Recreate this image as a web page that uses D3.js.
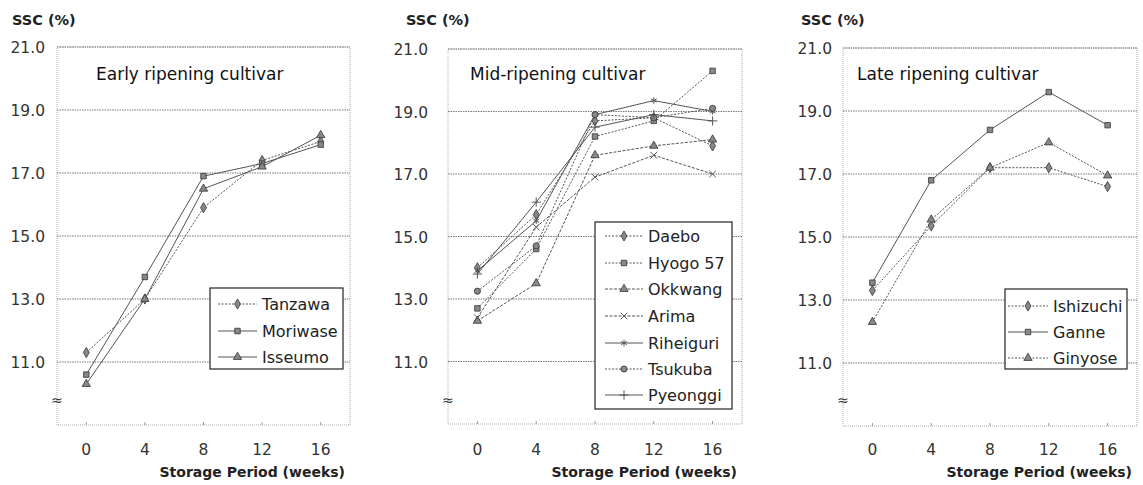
<!DOCTYPE html>
<html><head><meta charset="utf-8">
<script src="https://cdn.jsdelivr.net/npm/d3@7"></script>
<style>
body{margin:0;background:#fff;}
svg{display:block;}
text{font-family:"DejaVu Sans","Liberation Sans",sans-serif;}
</style></head>
<body>
<svg id="c" width="1143" height="485"></svg>
<script>
const weeks = [0, 4, 8, 12, 16];
const yTicks = [11, 13, 15, 17, 19, 21];
const yTickLabels = ["11.0", "13.0", "15.0", "17.0", "19.0", "21.0"];

const earlyTitle = "Early ripening cultivar";
const earlyNames = ["Tanzawa", "Moriwase", "Isseumo"];
const tanzawa  = [11.3, 13.0, 15.9, 17.4, 18.0];
const moriwase = [10.6, 13.7, 16.9, 17.3, 17.9];
const isseumo  = [10.3, 13.0, 16.5, 17.2, 18.2];

const midTitle = "Mid-ripening cultivar";
const midNames = ["Daebo", "Hyogo 57", "Okkwang", "Arima", "Riheiguri", "Tsukuba", "Pyeonggi"];
const daebo     = [14.0, 15.7, 18.7, 18.8, 17.9];
const hyogo57   = [12.7, 14.6, 18.2, 18.7, 20.3];
const okkwang   = [12.3, 13.5, 17.6, 17.9, 18.1];
const arima     = [12.4, 15.3, 16.9, 17.6, 17.0];
const riheiguri = [13.9, 15.5, 18.9, 19.35, 19.0];
const tsukuba   = [13.25, 14.7, 18.9, 18.8, 19.1];
const pyeonggi  = [13.8, 16.1, 18.5, 18.9, 18.7];

const lateTitle = "Late ripening cultivar";
const lateNames = ["Ishizuchi", "Ganne", "Ginyose"];
const ishizuchi = [13.3, 15.35, 17.2, 17.2, 16.6];
const ganne     = [13.55, 16.8, 18.4, 19.6, 18.55];
const ginyose   = [12.3, 15.55, 17.2, 18.0, 16.95];

const S = {
  diamond: d3.symbolDiamond, square: d3.symbolSquare, triangle: d3.symbolTriangle,
  times: d3.symbolTimes, asterisk: d3.symbolAsterisk, circle: d3.symbolCircle, plus: d3.symbolPlus
};
const strokeSyms = new Set(["times", "asterisk", "plus"]);

const panels = [
  { title: earlyTitle, names: earlyNames, values: [tanzawa, moriwase, isseumo],
    syms: ["diamond", "square", "triangle"], dash: ["2,1.5", null, null],
    left: 57, right: 350, top: 47, bottom: 425, ylabX: 45, sscX: 12, titleX: 96,
    leg: { x0: 210, y0: 288, w: 133, rowY: [304, 331, 357], lx0: 218, lx1: 257, tx: 262 } },
  { title: midTitle, names: midNames, values: [daebo, hyogo57, okkwang, arima, riheiguri, tsukuba, pyeonggi],
    syms: ["diamond", "square", "triangle", "times", "asterisk", "circle", "plus"],
    dash: ["2,1.5", "2,1.5", "3,1.5", "3,1.5", null, "2,1.5", null],
    left: 448, right: 742, top: 49, bottom: 424, ylabX: 428, sscX: 406, titleX: 470,
    leg: { x0: 595, y0: 222, w: 137, rowY: [236, 263, 289, 316, 343, 369, 395], lx0: 605, lx1: 643, tx: 648 } },
  { title: lateTitle, names: lateNames, values: [ishizuchi, ganne, ginyose],
    syms: ["diamond", "square", "triangle"], dash: ["2,1.5", null, "2,1.5"],
    left: 843, right: 1137, top: 48, bottom: 426, ylabX: 832, sscX: 801, titleX: 857,
    leg: { x0: 1005, y0: 289, w: 122, rowY: [306, 332, 358], lx0: 1008, lx1: 1048, tx: 1053 } }
];

const svg = d3.select("#c");

function drawSym(g, name, x, y, size) {
  const p = g.append("path")
    .attr("d", d3.symbol().type(S[name]).size(size)())
    .attr("transform", `translate(${x},${y})`);
  if (strokeSyms.has(name)) p.attr("fill", "none").attr("stroke", "#555").attr("stroke-width", 1);
  else p.attr("fill", "#888").attr("stroke", "#333").attr("stroke-width", 0.8);
}

panels.forEach(P => {
  const g = svg.append("g");
  const x = d3.scaleLinear().domain([-2, 18]).range([P.left, P.right]);
  const y = d3.scaleLinear().domain([9, 21]).range([P.bottom, P.top]);

  // frame
  g.append("rect").attr("x", P.left).attr("y", P.top)
    .attr("width", P.right - P.left).attr("height", P.bottom - P.top)
    .attr("fill", "none").attr("stroke", "#aaa").attr("stroke-width", 1).attr("stroke-dasharray", "1,1");

  // gridlines
  g.selectAll(".grid").data(yTicks).join("line")
    .attr("x1", P.left).attr("x2", P.right)
    .attr("y1", d => y(d)).attr("y2", d => y(d))
    .attr("stroke", "#777").attr("stroke-width", 1).attr("stroke-dasharray", "1.5,1");

  // y labels
  g.selectAll(".yl").data(yTicks).join("text")
    .attr("x", P.ylabX).attr("y", d => y(d) + 6)
    .attr("text-anchor", "end").attr("font-size", 15.5).attr("fill", "#333")
    .text((d, i) => yTickLabels[i]);

  // x ticks small + labels
  g.selectAll(".xt").data(weeks).join("line")
    .attr("x1", d => x(d)).attr("x2", d => x(d))
    .attr("y1", P.bottom - 3).attr("y2", P.bottom)
    .attr("stroke", "#999");
  g.selectAll(".xl").data(weeks).join("text")
    .attr("x", d => x(d)).attr("y", 455)
    .attr("text-anchor", "middle").attr("font-size", 15.5).attr("fill", "#333")
    .text(d => d);

  // axis break
  g.append("text").attr("x", P.left - 6).attr("y", 405)
    .attr("font-size", 14).attr("fill", "#333").text("≈");

  // axis titles
  g.append("text").attr("x", P.sscX).attr("y", 25)
    .attr("font-size", 14.5).attr("font-weight", "bold").attr("fill", "#222").text("SSC (%)");
  g.append("text").attr("x", P.right - 5).attr("y", 477)
    .attr("text-anchor", "end").attr("font-size", 14).attr("font-weight", "bold").attr("fill", "#222")
    .text("Storage Period (weeks)");

  // panel title
  g.append("text").attr("x", P.titleX).attr("y", 80)
    .attr("font-size", 17).attr("fill", "#111").text(P.title);

  // series
  const line = d3.line().x((d, i) => x(weeks[i])).y(d => y(d));
  P.values.forEach((vals, si) => {
    g.append("path").datum(vals).attr("d", line)
      .attr("fill", "none").attr("stroke", "#555").attr("stroke-width", 1)
      .attr("stroke-dasharray", P.dash[si]);
    vals.forEach((v, i) => drawSym(g, P.syms[si], x(weeks[i]), y(v), 30));
  });

  // legend
  const L = P.leg;
  const lh = L.rowY[L.rowY.length - 1] - L.rowY[0] + 28;
  g.append("rect").attr("x", L.x0).attr("y", L.y0).attr("width", L.w).attr("height", lh)
    .attr("fill", "#fff").attr("stroke", "#222").attr("stroke-width", 1.2);
  P.names.forEach((n, i) => {
    const ry = L.rowY[i];
    g.append("line").attr("x1", L.lx0).attr("x2", L.lx1).attr("y1", ry).attr("y2", ry)
      .attr("stroke", "#555").attr("stroke-width", 1).attr("stroke-dasharray", P.dash[i]);
    drawSym(g, P.syms[i], (L.lx0 + L.lx1) / 2, ry, 30);
    g.append("text").attr("x", L.tx).attr("y", ry + 6)
      .attr("font-size", 16).attr("fill", "#222").text(n);
  });
});
</script>
</body></html>
